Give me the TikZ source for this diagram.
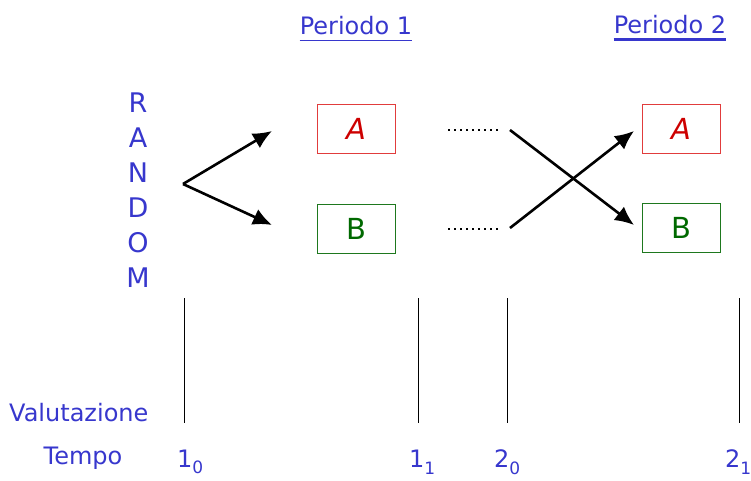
\documentclass[tikz,border=0pt]{standalone}
\usepackage{fontspec}
\setmainfont{DejaVu Sans}
\usetikzlibrary{arrows.meta}
\definecolor{tblue}{RGB}{55,55,205}
\definecolor{bred}{RGB}{225,60,60}
\definecolor{tred}{RGB}{205,0,0}
\definecolor{bgreen}{RGB}{30,120,30}
\definecolor{tgreen}{RGB}{0,105,0}
\newcommand{\subnum}[2]{#1\raisebox{-0.5ex}{\fontsize{17}{17}\selectfont #2}}
\begin{document}
\begin{tikzpicture}[x=1pt,y=-1pt,
  lbl/.style={text=tblue,font=\fontsize{24}{28}\selectfont,inner sep=0pt},
  hdr/.style={text=tblue,font=\fontsize{24}{28}\selectfont,inner sep=0pt},
  boxA/.style={draw=bred,line width=0.9pt,minimum width=78pt,minimum height=49pt,text=tred,font=\fontsize{29}{32}\selectfont\itshape},
  boxB/.style={draw=bgreen,line width=0.9pt,minimum width=78pt,minimum height=49pt,text=tgreen,font=\fontsize{29}{32}\selectfont},
  arr/.style={line width=2.6pt,-{Latex[length=19pt,width=17pt]}},
  dots/.style={line width=1.8pt,dash pattern=on 1.8pt off 4.2pt},
  tick/.style={line width=0.8pt}]
\useasboundingbox (0,0) rectangle (751,481);
% headers
\node[hdr] (p1) at (356,26) {Periodo 1};
\draw[tblue,line width=1.8pt] (p1.south west) ++(0,5) -- ([yshift=-5pt]p1.south east);
\node[hdr] (p2) at (670,25) {Periodo 2};
\draw[tblue,line width=2.4pt] (p2.south west) ++(0,5) -- ([yshift=-5pt]p2.south east);
% RANDOM
\node[text=tblue,font=\fontsize{27}{35}\selectfont,align=center,inner sep=0pt] (rand) at (138,190) {R\\A\\N\\D\\O\\M};
% boxes
\node[boxA] (a1) at (356,129) {A};
\node[boxB] (b1) at (356,229) {B};
\node[boxA] (a2) at (681,129) {A};
\node[boxB] (b2) at (681,228) {B};
% arrows
\coordinate (r) at (183,184);
\coordinate (ra) at (272,131);
\coordinate (rb) at (272,225);
\draw[arr] (r) -- (ra);
\draw[arr] (r) -- (rb);
% dots
\coordinate (d1s) at (448,130); \coordinate (d1e) at (498,130);
\coordinate (d2s) at (448,229); \coordinate (d2e) at (498,229);
\draw[dots] (d1s) -- (d1e);
\draw[dots] (d2s) -- (d2e);
% cross
\coordinate (c1) at (510,130); \coordinate (c1e) at (634,225);
\coordinate (c2) at (510,228); \coordinate (c2e) at (634,131);
\draw[arr] (c1) -- (c1e);
\draw[arr] (c2) -- (c2e);
% ticks
\coordinate (t1a) at (184,298); \coordinate (t1b) at (184,423);
\coordinate (t2a) at (418,298); \coordinate (t2b) at (418,423);
\coordinate (t3a) at (507,298); \coordinate (t3b) at (507,423);
\coordinate (t4a) at (739,298); \coordinate (t4b) at (739,423);
\draw[tick] (t1a) -- (t1b);
\draw[tick] (t2a) -- (t2b);
\draw[tick] (t3a) -- (t3b);
\draw[tick] (t4a) -- (t4b);
% labels
\node[lbl,anchor=west] (val) at (9,413) {Valutazione};
\node[lbl] (tempo) at (83,458) {Tempo};
\node[lbl,anchor=west] (l10) at (177,462) {\subnum{1}{0}};
\node[lbl,anchor=west] (l11) at (409,462) {\subnum{1}{1}};
\node[lbl,anchor=west] (l20) at (494,462) {\subnum{2}{0}};
\node[lbl,anchor=west] (l21) at (725,462) {\subnum{2}{1}};
\end{tikzpicture}
\end{document}
